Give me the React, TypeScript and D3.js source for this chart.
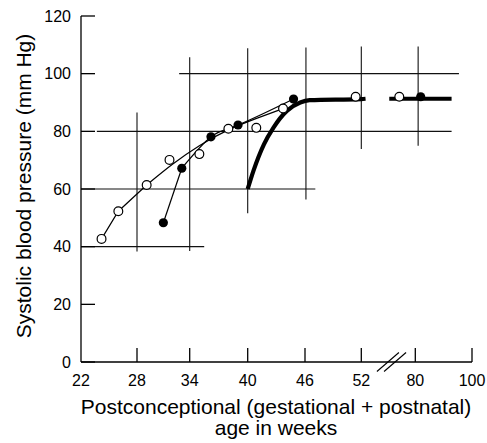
import React from "react";
import * as d3 from "d3";

// ---- data (weeks, mm Hg) ----
const xTicks = [22, 28, 34, 40, 46, 52, 80, 100];
const yTicks = [0, 20, 40, 60, 80, 100, 120];

const openWeeks = [24.2, 26.0, 29.1, 31.7, 35.0, 38.0, 40.9, 43.7, 51.4, 71.7];
const openBP = [42.7, 52.3, 61.4, 70.1, 72.1, 80.9, 81.2, 87.9, 92.0, 92.0];

const filledWeeks = [31.0, 33.1, 36.2, 39.0, 44.8, 81.9];
const filledBP = [48.3, 67.2, 78.1, 82.2, 91.2, 92.0];

// straight joining segments
const openSegWeeks = [24.2, 26.0, 29.1];
const openSegBP = [42.7, 52.3, 61.4];
const filledSegWeeks = [31.0, 33.1];
const filledSegBP = [48.3, 67.2];

// fitted smooth curves
const openFitWeeks = [29.1, 32, 35, 38, 41, 43.7];
const openFitBP = [61.4, 68.5, 75.0, 80.5, 84.6, 87.9];
const filledFitWeeks = [33.1, 36.2, 39.0, 44.8];
const filledFitBP = [67.2, 78.1, 82.2, 91.2];

// thick reference curve (two pieces across the axis break)
const thickAWeeks = [40, 40.6, 41.7, 42.7, 44.1, 45.5, 46.5, 52, 54.2];
const thickABP = [60, 66.3, 75.5, 81.3, 87.1, 90, 90.8, 91.2, 91.3];
const thickBWeeks = [66.5, 92.8];
const thickBBP = [91.3, 91.3];

// cross bars (horizontal: y, x1, x2 ; vertical: x, y1, y2)
const hBarY = [40, 60, 80, 100];
const hBarX1 = [22, 22, 23.7, 32.8];
const hBarX2 = [35.5, 47.1, 92.8, 95.4];
const vBarX = [28, 34, 40, 46.1, 52, 81];
const vBarY1 = [38.3, 38.5, 51.6, 56.4, 73.9, 75.0];
const vBarY2 = [86.5, 105.7, 108.8, 109.1, 109.4, 109.4];

const breakWeeks = [65.8, 69.5];

const W = 487;
const H = 443;
const FONT = "'Liberation Sans', Arial, Helvetica, sans-serif";

export default function App() {
  const x = d3
    .scaleLinear()
    .domain(xTicks)
    .range([81, 137, 189.7, 247.7, 305, 361.3, 415.3, 472]);
  const y = d3.scaleLinear().domain([0, 120]).range([362, 16]);

  const zip = (xs: number[], ys: number[]) => xs.map((v, i) => [v, ys[i]] as [number, number]);
  const lin = d3
    .line<[number, number]>()
    .x((d) => x(d[0]))
    .y((d) => y(d[1]));
  const smooth = d3
    .line<[number, number]>()
    .x((d) => x(d[0]))
    .y((d) => y(d[1]))
    .curve(d3.curveMonotoneX);
  const natural = d3
    .line<[number, number]>()
    .x((d) => x(d[0]))
    .y((d) => y(d[1]))
    .curve(d3.curveNatural);

  const x0 = x(22);
  const y0 = y(0);
  const tickLen = 14;

  return (
    <svg
      width={W}
      height={H}
      style={{ position: "absolute", left: 0, top: 0, background: "#fff" }}
      fontFamily={FONT}
    >
      <rect width={W} height={H} fill="#fff" />
      {/* cross bars */}
      <g stroke="#111" strokeWidth={1.1}>
        {hBarY.map((v, i) => (
          <line key={"h" + i} x1={x(hBarX1[i])} x2={x(hBarX2[i])} y1={y(v)} y2={y(v)} />
        ))}
        {vBarX.map((v, i) => (
          <line key={"v" + i} x1={x(v)} x2={x(v)} y1={y(vBarY1[i])} y2={y(vBarY2[i])} />
        ))}
      </g>

      {/* axes */}
      <g stroke="#000" strokeWidth={1.3} fill="none">
        <line x1={x0} x2={x0} y1={y(120)} y2={y0} />
        <line x1={x0} x2={x(100)} y1={y0} y2={y0} />
        {yTicks.map((t) => (
          <line key={"yt" + t} x1={x0} x2={x0 + tickLen} y1={y(t)} y2={y(t)} />
        ))}
        {xTicks.slice(1).map((t) => (
          <line key={"xt" + t} x1={x(t)} x2={x(t)} y1={y0} y2={y0 - tickLen} />
        ))}
      </g>
      {/* axis break */}
      <g stroke="#000" strokeWidth={1.1}>
        {breakWeeks.map((b, i) => (
          <line key={"b" + i} x1={x(b) - 11} x2={x(b) + 11} y1={y0 + 9.5} y2={y0 - 9.5} />
        ))}
      </g>

      {/* tick labels */}
      <g fontSize={16} fill="#000">
        {yTicks.map((t) => (
          <text key={"yl" + t} x={71} y={y(t)} dy="0.36em" textAnchor="end">
            {t}
          </text>
        ))}
        {xTicks.map((t) => (
          <text key={"xl" + t} x={x(t)} y={386} textAnchor="middle">
            {t}
          </text>
        ))}
      </g>

      {/* titles */}
      <g fontSize={21} fill="#000">
        <text x={276} y={414} textAnchor="middle">
          Postconceptional (gestational + postnatal)
        </text>
        <text x={276} y={435} textAnchor="middle">
          age in weeks
        </text>
        <text transform="translate(31,186) rotate(-90)" textAnchor="middle">
          Systolic blood pressure (mm Hg)
        </text>
      </g>

      {/* thick curve */}
      <g fill="none" stroke="#000" strokeWidth={4.2}>
        <path d={smooth(zip(thickAWeeks, thickABP)) || ""} />
        <path d={lin(zip(thickBWeeks, thickBBP)) || ""} />
      </g>

      {/* thin lines */}
      <g fill="none" stroke="#000" strokeWidth={1.2}>
        <path d={lin(zip(openSegWeeks, openSegBP)) || ""} />
        <path d={lin(zip(filledSegWeeks, filledSegBP)) || ""} />
        <path d={natural(zip(openFitWeeks, openFitBP)) || ""} />
        <path d={natural(zip(filledFitWeeks, filledFitBP)) || ""} />
      </g>

      {/* points */}
      {openWeeks.map((w, i) => (
        <circle key={"o" + i} cx={x(w)} cy={y(openBP[i])} r={4.4} fill="#fff" stroke="#000" strokeWidth={1.2} />
      ))}
      {filledWeeks.map((w, i) => (
        <circle key={"f" + i} cx={x(w)} cy={y(filledBP[i])} r={4.6} fill="#000" />
      ))}
    </svg>
  );
}
